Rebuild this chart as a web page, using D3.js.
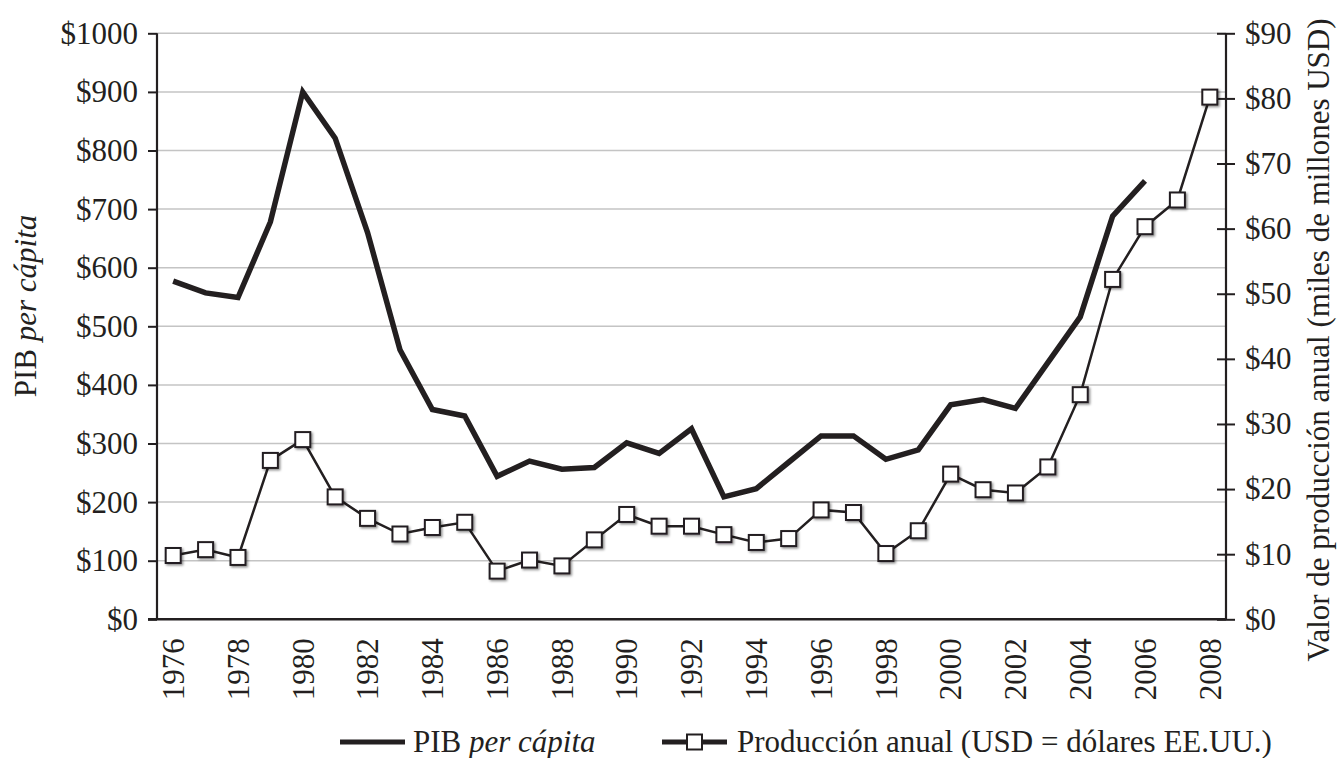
<!DOCTYPE html>
<html>
<head>
<meta charset="utf-8">
<script src="https://cdn.jsdelivr.net/npm/d3@7"></script>
<style>
  html, body { margin: 0; padding: 0; background: #fff; }
  svg text { font-family: "Liberation Serif", "Times New Roman", Times, serif; fill: #231f20; }
</style>
</head>
<body>
<svg id="chart" width="1338" height="758"></svg>
<script>
// ---- Data ----
const years = d3.range(1976, 2009);
const pibYears = d3.range(1976, 2007);
const pibValues = [577, 557, 549, 678, 900, 821, 660, 460, 358, 347, 244, 270, 256, 259, 301, 283, 325, 209, 223, 268, 313, 313, 273, 289, 366, 375, 360, 438, 516, 688, 748];
const prodValues = [9.8, 10.7, 9.5, 24.4, 27.6, 18.8, 15.5, 13.1, 14.1, 14.9, 7.4, 9.1, 8.2, 12.2, 16.1, 14.3, 14.3, 13.0, 11.8, 12.4, 16.8, 16.4, 10.1, 13.6, 22.3, 19.9, 19.4, 23.4, 34.5, 52.2, 60.3, 64.4, 80.2];
const leftTicks = [0, 100, 200, 300, 400, 500, 600, 700, 800, 900, 1000];
const rightTicks = [0, 10, 20, 30, 40, 50, 60, 70, 80, 90];
const xTickYears = d3.range(1976, 2009, 2);
const leftTitle = ["PIB ", "per cápita"];
const rightTitle = "Valor de producción anual (miles de millones USD)";
const legendPib = ["PIB ", "per cápita"];
const legendProd = "Producción anual (USD = dólares EE.UU.)";

// ---- Layout ----
const svg = d3.select("#chart");
const L = 157, R = 1226, T = 33.3, B = 619.3;
const ink = "#231f20";
const fontSize = 31;

const x = d3.scalePoint().domain(years).range([L, R]).padding(0.5);
const yL = d3.scaleLinear().domain([0, 1000]).range([B, T]);
const yR = d3.scaleLinear().domain([0, 90]).range([B, T]);

// drop shadow filter for markers
const defs = svg.append("defs");
const f = defs.append("filter").attr("id", "shadow").attr("x", "-50%").attr("y", "-50%").attr("width", "200%").attr("height", "200%");
f.append("feDropShadow").attr("dx", 1.5).attr("dy", 1.5).attr("stdDeviation", 1)
  .attr("flood-color", "#000").attr("flood-opacity", 0.45);

// gridlines
svg.append("g").selectAll("line").data(leftTicks.filter(d => d > 0)).join("line")
  .attr("x1", L).attr("x2", R)
  .attr("y1", d => yL(d)).attr("y2", d => yL(d))
  .attr("stroke", "#c4c4c4").attr("stroke-width", 1.5);

// left axis
const gL = svg.append("g").attr("transform", `translate(${L},0)`)
  .call(d3.axisLeft(yL).tickValues(leftTicks).tickSize(9).tickPadding(10).tickFormat(d => "$" + d));
gL.select(".domain").remove();
gL.selectAll(".tick line").attr("stroke", ink).attr("stroke-width", 2);
gL.selectAll(".tick text").attr("font-size", fontSize).attr("fill", ink);
svg.append("line").attr("x1", L).attr("x2", L).attr("y1", T).attr("y2", B).attr("stroke", ink).attr("stroke-width", 2.2);

// right axis
const gR = svg.append("g").attr("transform", `translate(${R},0)`)
  .call(d3.axisRight(yR).tickValues(rightTicks).tickSize(9).tickPadding(10).tickFormat(d => "$" + d));
gR.select(".domain").remove();
gR.selectAll(".tick line").attr("x1", -9).attr("stroke", ink).attr("stroke-width", 2);
gR.selectAll(".tick text").attr("font-size", fontSize).attr("fill", ink);
svg.append("line").attr("x1", R).attr("x2", R).attr("y1", T).attr("y2", B).attr("stroke", ink).attr("stroke-width", 2.2);

// bottom axis
svg.append("line").attr("x1", L - 9).attr("x2", R).attr("y1", B).attr("y2", B).attr("stroke", ink).attr("stroke-width", 2.5);
const gX = svg.append("g").attr("transform", `translate(0,${B})`)
  .call(d3.axisBottom(x).tickValues(xTickYears).tickSize(0).tickFormat(d => String(d)));
gX.select(".domain").remove();
gX.selectAll(".tick text")
  .attr("font-size", fontSize).attr("fill", ink)
  .attr("text-anchor", "end")
  .attr("transform", "translate(0,19) rotate(-90)")
  .attr("x", 0).attr("y", 0).attr("dy", "0.33em");

// PIB line
const linePib = d3.line().x((d, i) => x(pibYears[i])).y(d => yL(d));
svg.append("path").datum(pibValues).attr("d", linePib)
  .attr("fill", "none").attr("stroke", ink).attr("stroke-width", 5.5)
  .attr("stroke-linejoin", "miter").attr("stroke-miterlimit", 6);

// Production line
const lineProd = d3.line().x((d, i) => x(years[i])).y(d => yR(d));
svg.append("path").datum(prodValues).attr("d", lineProd)
  .attr("fill", "none").attr("stroke", ink).attr("stroke-width", 2.5);

const ms = 15;
svg.append("g").selectAll("rect").data(prodValues).join("rect")
  .attr("x", (d, i) => x(years[i]) - ms / 2).attr("y", d => yR(d) - ms / 2)
  .attr("width", ms).attr("height", ms)
  .attr("fill", "#fff").attr("stroke", ink).attr("stroke-width", 2)
  .attr("filter", "url(#shadow)");

// axis titles
const lt = svg.append("text")
  .attr("transform", "translate(25,306) rotate(-90)")
  .attr("text-anchor", "middle").attr("dy", "0.35em")
  .attr("font-size", fontSize);
lt.append("tspan").text(leftTitle[0]);
lt.append("tspan").attr("font-style", "italic").text(leftTitle[1]);

svg.append("text")
  .attr("transform", "translate(1318,340) rotate(-90)")
  .attr("text-anchor", "middle").attr("dy", "0.35em")
  .attr("font-size", fontSize).text(rightTitle);

// legend
const ly = 742;
svg.append("line").attr("x1", 340).attr("x2", 405).attr("y1", ly).attr("y2", ly)
  .attr("stroke", ink).attr("stroke-width", 5);
const lg1 = svg.append("text").attr("x", 413).attr("y", ly).attr("dy", "0.33em").attr("font-size", fontSize);
lg1.append("tspan").text(legendPib[0]);
lg1.append("tspan").attr("font-style", "italic").text(legendPib[1]);

svg.append("line").attr("x1", 662).attr("x2", 727).attr("y1", ly).attr("y2", ly)
  .attr("stroke", ink).attr("stroke-width", 5);
svg.append("rect").attr("x", 694.5 - ms / 2).attr("y", ly - ms / 2).attr("width", ms).attr("height", ms)
  .attr("fill", "#fff").attr("stroke", ink).attr("stroke-width", 2);
svg.append("text").attr("x", 737).attr("y", ly).attr("dy", "0.33em").attr("font-size", fontSize).text(legendProd);
</script>
</body>
</html>
